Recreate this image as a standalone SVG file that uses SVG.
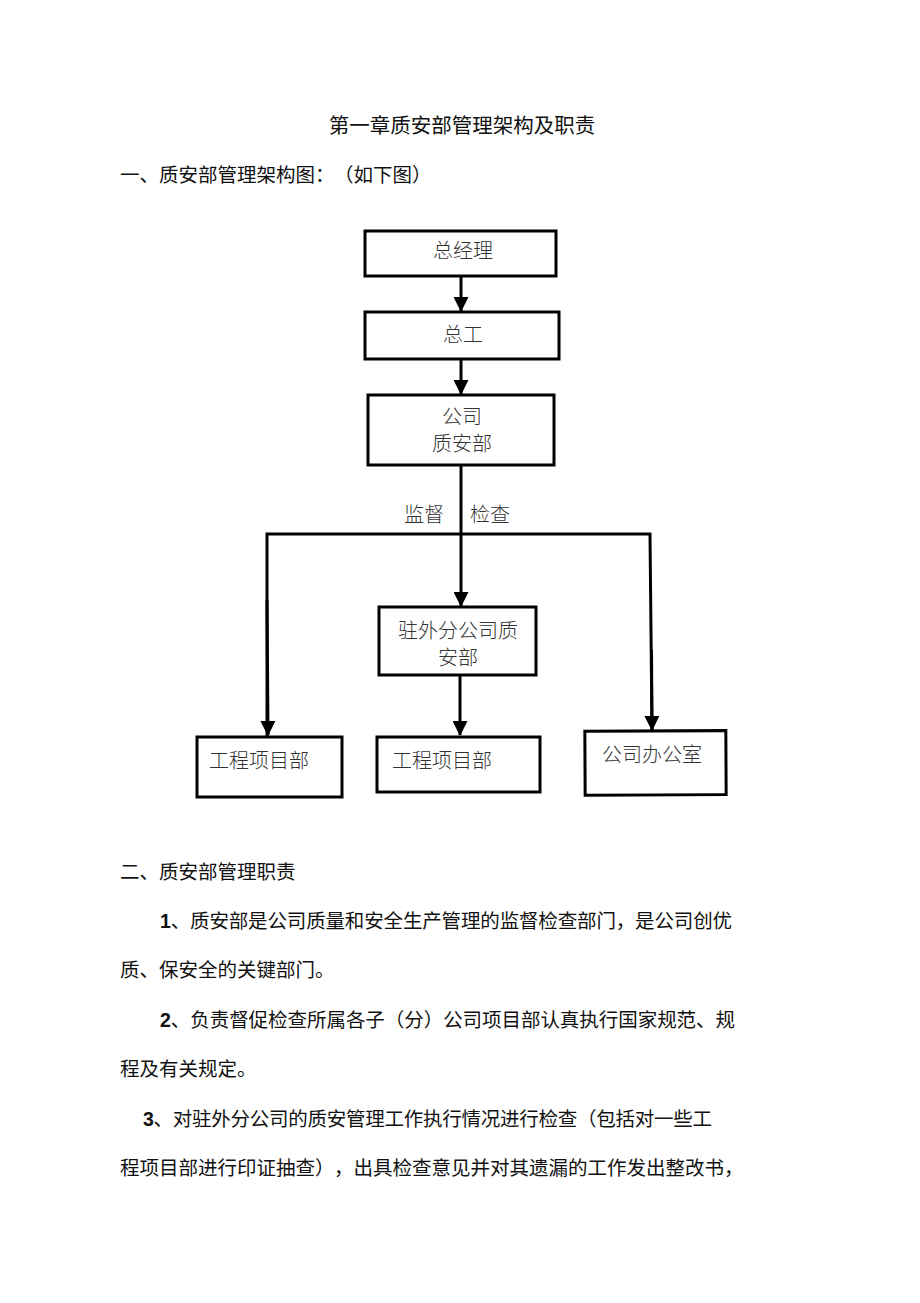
<svg xmlns="http://www.w3.org/2000/svg" width="920" height="1303" viewBox="0 0 920 1303">
<defs>
<style>
.t{font-family:"Liberation Sans","Noto Sans CJK SC",sans-serif;font-size:19.5px;fill:#111;text-spacing-trim:space-all;}
.h{font-family:"Liberation Sans","Noto Sans CJK SC",sans-serif;font-size:20.5px;fill:#111;}
.n{font-family:"Noto Sans CJK SC",sans-serif;font-size:20px;fill:#333;font-weight:300;}
.b{fill:#fff;stroke:#000;stroke-width:3;}
.c{fill:none;stroke:#000;stroke-width:3;}
.d{font-weight:bold;}
</style>
<marker id="ad" markerUnits="userSpaceOnUse" markerWidth="15" markerHeight="15" viewBox="0 0 15 15" refX="14" refY="7.5" orient="auto">
<path d="M0,0 L15,7.5 L0,15 Z" fill="#000"/>
</marker>
</defs>
<rect width="920" height="1303" fill="#fff"/>
<text class="h" x="462" y="133" text-anchor="middle">第一章质安部管理架构及职责</text>
<text class="t" x="120" y="182">一、质安部管理架构图：<tspan x="334">（如下图）</tspan></text>
<g id="connectors">
<line class="c" x1="461" y1="276" x2="461" y2="311" marker-end="url(#ad)"/>
<line class="c" x1="461" y1="359" x2="461" y2="394" marker-end="url(#ad)"/>
<line class="c" x1="461" y1="465" x2="461" y2="606" marker-end="url(#ad)"/>
<polyline class="c" points="267,737 267,534 650,534 652,730"/>
<line class="c" x1="267" y1="600" x2="268" y2="735" marker-end="url(#ad)"/>
<line class="c" x1="651.5" y1="650" x2="652" y2="730" marker-end="url(#ad)"/>
<line class="c" x1="460" y1="675" x2="460" y2="735" marker-end="url(#ad)"/>
<text class="n" x="424" y="522" text-anchor="middle">监督</text>
<text class="n" x="490" y="522" text-anchor="middle">检查</text>
</g>
<g id="n1"><rect class="b" x="365" y="231" width="191" height="45"/><text class="n" x="463" y="258" text-anchor="middle">总经理</text></g>
<g id="n2"><rect class="b" x="365" y="312" width="194" height="47"/><text class="n" x="463" y="342" text-anchor="middle">总工</text></g>
<g id="n3"><rect class="b" x="368" y="395" width="186" height="70"/><text class="n" x="462" y="424" text-anchor="middle">公司</text><text class="n" x="462" y="451" text-anchor="middle">质安部</text></g>
<g id="n4"><rect class="b" x="379" y="607" width="157" height="68"/><text class="n" x="458" y="638" text-anchor="middle">驻外分公司质</text><text class="n" x="458" y="665" text-anchor="middle">安部</text></g>
<g id="n5"><rect class="b" x="197" y="737" width="145" height="60"/><text class="n" x="209" y="768">工程项目部</text></g>
<g id="n6"><rect class="b" x="377" y="737" width="163" height="55"/><text class="n" x="392" y="768">工程项目部</text></g>
<g id="n7"><rect class="b" x="585" y="731" width="141" height="64" transform="rotate(-0.3 655 763)"/><text class="n" x="602" y="762">公司办公室</text></g>
<text class="t" x="120" y="879">二、质安部管理职责</text>
<text class="t" x="160" y="928" textLength="572" lengthAdjust="spacing"><tspan class="d">1</tspan>、质安部是公司质量和安全生产管理的监督检查部门，是公司创优</text>
<text class="t" x="120" y="977">质、保安全的关键部门。</text>
<text class="t" x="160" y="1027" textLength="575" lengthAdjust="spacing"><tspan class="d">2</tspan>、负责督促检查所属各子（分）公司项目部认真执行国家规范、规</text>
<text class="t" x="120" y="1076">程及有关规定。</text>
<text class="t" x="143" y="1126" textLength="569" lengthAdjust="spacing"><tspan class="d">3</tspan>、对驻外分公司的质安管理工作执行情况进行检查（包括对一些工</text>
<text class="t" x="120" y="1175">程项目部进行印证抽查）<tspan x="334">，出具检查意见并对其遗漏的工作发出整改书，</tspan></text>
</svg>
